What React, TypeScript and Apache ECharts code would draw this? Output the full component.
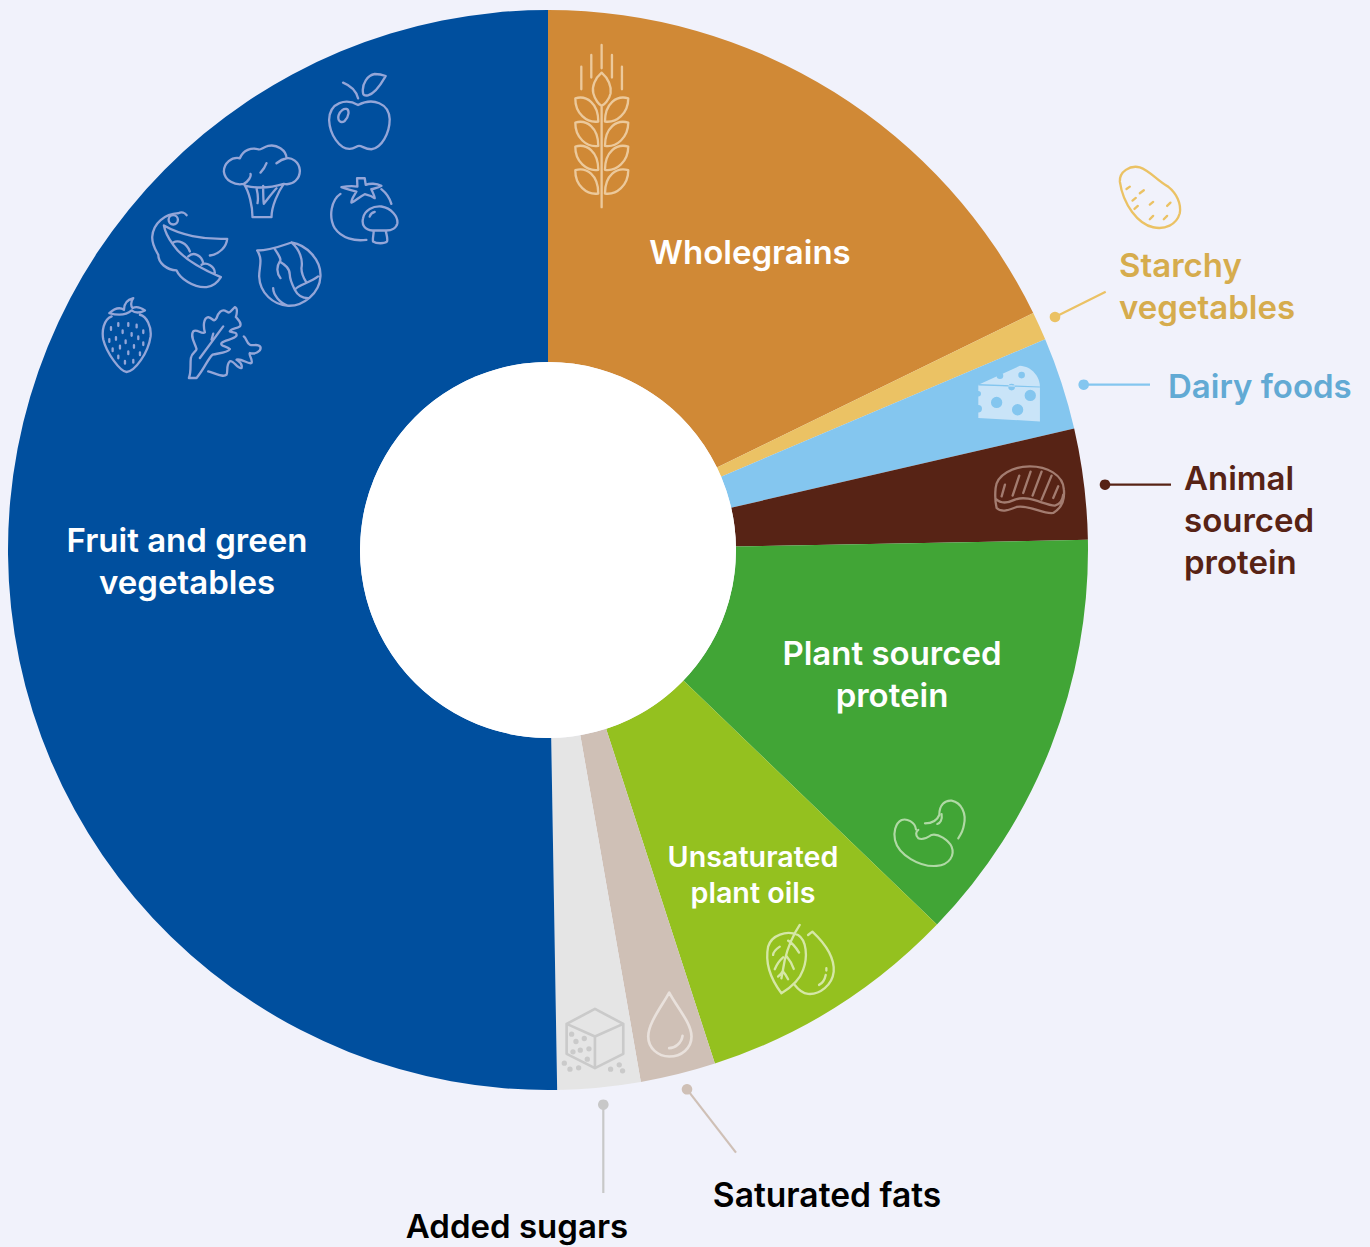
import React, { useEffect, useRef } from "react";
import * as echarts from "echarts";

const categories = ["Wholegrains", "Starchy vegetables", "Dairy foods", "Animal sourced protein", "Plant sourced protein", "Unsaturated plant oils", "Saturated fats", "Added sugars", "Fruit and green vegetables"];
const labelTexts = ["Wholegrains", "Starchy\nvegetables", "Dairy foods", "Animal\nsourced\nprotein", "Plant sourced\nprotein", "Unsaturated\nplant oils", "Saturated fats", "Added sugars", "Fruit and green\nvegetables"];
const shares = [17.77, 0.85, 2.77, 3.31, 12.5, 7.8, 2.25, 2.48, 50.27];
const sliceColors = ["#d08936", "#ebc264", "#84c6ef", "#572315", "#41a536", "#94c11f", "#cfc0b6", "#e5e5e5", "#004f9e"];
const labelColors = ["#ffffff", "#d6ac4d", "#62aad4", "#572315", "#ffffff", "#ffffff", "#000000", "#000000", "#ffffff"];
const labelSpots: [number, number, string, number, number][] = [
  [750, 251.5, "center", 33, 42], [1119, 285.5, "left", 33, 42], [1168, 385.5, "left", 33, 42], [1184, 519.5, "left", 33, 42],
  [892, 673.5, "center", 33, 42], [753, 874.5, "center", 28.7, 36], [827, 1194.5, "center", 33.6, 42], [517, 1225.5, "center", 33, 42], [187, 560.5, "center", 33, 42],
];

const circ = (c: number, d: number, r: number) => `M${c - r} ${d}a${r} ${r} 0 1 0 ${2 * r} 0a${r} ${r} 0 1 0 ${-2 * r} 0Z`;
const seed = (p: number[]) => `M${p[0]} ${p[1]}l0 8`;
const seeds = [[63, 802], [85, 790], [115, 790], [140, 795], [160, 812], [58, 838], [78, 832], [98, 812], [125, 820], [145, 830], [160, 848], [68, 866], [90, 858], [107, 842], [132, 856], [150, 878], [85, 888], [115, 875], [130, 901], [105, 904]];

const veg = [
  "M805 135C770 115 720 125 718 180C720 225 750 268 780 267C795 267 800 258 808 258C818 258 825 268 845 268C875 265 900 220 900 178C898 130 850 112 805 135Z",
  "M770 147C780 150 778 170 765 183C752 192 742 180 747 165C752 152 762 145 770 147Z",
  "M760 68C785 78 800 95 805 115M820 100C815 70 835 45 855 42C870 42 880 45 888 48C878 65 860 100 835 106C825 108 820 105 820 100Z",
  "M488 472L545 472C545 440 565 395 582 372C610 378 632 355 630 330C628 305 605 292 590 295C590 270 560 252 535 258C520 262 510 272 505 268C485 262 460 270 450 295C425 290 402 310 402 335C405 362 435 378 462 372C478 395 488 440 488 472Z",
  "M462 372C475 365 485 350 482 342M468 378C500 385 540 385 582 372M560 310C575 298 585 296 590 295M530 310C525 325 518 332 512 338M500 385C505 405 505 420 503 430M520 378C520 400 520 420 522 432C540 410 550 395 560 385",
  "M265 460C225 462 190 490 187 530C185 555 200 575 205 585C205 610 230 630 260 632C270 655 310 685 350 682C370 680 385 665 393 652C340 630 280 600 250 555C235 535 225 515 222 497C270 525 340 540 412 537C410 560 390 583 360 587",
  circ(250, 480, 14),
  "M265 460C275 455 285 458 290 466M250 548C265 540 290 548 300 575M295 590C310 575 335 585 340 610M335 615C350 605 375 620 375 640",
  "M502 572C540 572 570 560 605 548C650 555 695 600 692 650C690 700 640 740 595 738C550 735 510 700 508 650C508 620 520 600 502 572Z",
  "M555 568C570 590 575 600 570 605C585 615 600 625 600 645C600 660 610 680 615 690C625 710 640 715 655 715M615 690C625 675 660 670 685 650M605 548C630 570 640 600 635 625C635 645 645 660 650 668M570 605C560 620 560 640 572 655M550 685C550 705 570 730 595 738",
  "M752 402C725 420 715 470 735 505C755 535 795 545 830 540M875 388C890 400 900 415 905 432",
  "M755 382C775 378 790 378 803 380L802 355L825 355L828 375C840 370 860 370 875 378C865 385 855 385 845 388C850 400 855 410 855 415C840 405 830 405 825 403C810 410 795 425 785 428C785 415 795 405 800 395C785 390 770 388 755 382Z",
  "M848 512C825 510 815 495 820 475C825 450 850 438 875 440C905 445 925 470 923 490C920 505 905 512 890 512ZM852 512C852 525 848 535 850 545C860 552 885 552 892 545C895 535 890 525 888 512M840 470C842 462 848 458 855 456",
  "M65 770C40 780 35 815 40 840C50 880 90 935 110 937C135 935 175 880 182 830C185 800 170 770 150 765",
  "M58 760C75 745 90 742 102 750C102 735 110 720 130 715C122 725 122 740 128 745C140 738 155 745 165 752C150 760 135 760 125 752C110 765 85 768 58 760Z",
  seeds.map(seed).join(""),
  "M297 955C305 935 300 915 303 895C305 880 320 875 320 868C315 850 300 830 310 815C320 805 335 825 345 818C340 800 340 775 355 772C370 775 370 790 380 775C385 760 395 745 410 755C420 765 425 750 435 742C445 745 440 765 438 772C445 780 458 790 450 800C440 808 425 805 420 815C430 820 442 815 440 828C432 840 405 840 395 850C390 860 410 858 420 868C412 880 385 880 368 885C355 895 345 925 320 955Z",
  "M355 935C375 940 400 955 410 945C415 935 408 915 420 905C430 900 445 930 455 925C460 910 445 905 440 900C455 895 475 915 485 910C490 900 475 885 480 880C495 885 515 875 512 862C505 850 490 860 480 855C470 850 470 835 462 830",
  "M330 895L400 800M370 822L365 840",
];
const wheatLeaf = (dy: number) => `M46 ${205 + dy}C80 ${195 + dy} 115 ${220 + dy} 115 ${275 + dy}C80 ${280 + dy} 45 ${250 + dy} 46 ${205 + dy}ZM205 ${205 + dy}C170 ${195 + dy} 135 ${220 + dy} 135 ${275 + dy}C170 ${280 + dy} 205 ${250 + dy} 205 ${205 + dy}Z`;
const wheat = "M125 232L125 532M125 128C105 145 95 170 100 190C105 210 118 225 125 228C132 225 148 210 152 190C155 170 145 145 125 128ZM125 45L125 115M94 75L94 143M156 75L156 143M64 110L64 178M186 110L186 178" + [0, 73, 145, 216].map(wheatLeaf).join("");
const potato = "M480 95C478 65 510 45 540 52C570 62 590 90 625 110C650 130 665 160 660 190C650 225 615 240 580 232C535 222 490 165 480 95ZM500 117L510 110M540 130L552 121M518 152L528 144M524 177L534 168M570 164L580 156M622 168L632 158M570 208L580 198M612 208L622 198";
const cheese = "M55 705L180 648C215 650 240 680 240 712L240 815L55 805Z";
const cheeseHoles = [circ(110, 758, 17), circ(173, 780, 17), circ(211, 737, 17), circ(55, 732, 8), circ(55, 777, 11), circ(120, 678, 10), circ(185, 676, 10), circ(155, 712, 10), "M55 703L240 710L240 713L55 707Z"].join("");
const steak = "M107 1015C110 975 160 950 210 950C260 950 310 975 312 1020C315 1050 305 1075 280 1090C250 1095 210 1065 170 1072C150 1080 125 1090 110 1075C105 1055 105 1035 107 1015ZM108 1048C120 1060 140 1062 165 1050C205 1035 250 1065 285 1068C300 1065 308 1050 310 1035M135 1005L125 1040M178 978L158 1038M212 966L190 1030M245 966L218 1038M275 978L245 1050M295 1010L280 1045";
const bean = "M108 118C105 95 80 85 65 90C45 100 40 130 45 150C55 195 120 232 170 228C210 225 225 195 215 170C205 150 175 130 155 135C140 145 125 150 115 145C105 135 108 125 115 120M135 100C155 100 170 95 178 75C178 45 195 30 215 32C245 38 260 70 252 105C250 120 242 135 235 145M172 102C180 100 188 90 185 72";
const leaves = "M725 280C695 240 675 190 685 140C695 105 740 90 775 105C800 120 805 170 790 210C780 240 750 265 725 280ZM780 75C760 105 745 140 735 180L725 235M745 122C760 130 770 145 778 158M720 140C705 150 700 160 700 165M740 168C750 180 758 195 762 207M730 172C715 185 708 200 705 208M730 212C725 222 718 228 715 230M730 215C737 222 742 232 745 238M805 105L818 95C850 125 885 170 882 215C878 255 840 285 805 282C790 280 775 268 765 255M860 205L860 212M858 225C855 240 848 250 838 255";
const drop = "M388 278C365 320 325 370 325 410C325 445 355 470 388 470C425 470 455 445 455 410C455 370 410 320 388 278ZM388 445C405 445 425 430 428 408";
const cube = "M165 327L250 372L250 462L165 505L80 462L80 372ZM80 372L165 410L250 372M165 410L165 505";
const cubeDots = [[95, 403], [133, 416], [108, 425], [147, 447], [121, 451], [99, 456], [142, 478], [73, 490], [90, 508], [116, 504], [212, 508], [238, 495], [248, 513]].map((p) => circ(p[0], p[1], 8)).join("");

const shapes: Record<string, string> = { veg: veg.join(""), wheat, potato, cheese, cheeseHoles, steak, bean, leaves, drop, cube, cubeDots };
Object.keys(shapes).forEach((k) => echarts.graphic.registerShape("icon_" + k, echarts.graphic.extendPath(shapes[k], {})));

const strokeIcon = (k: string, x: number, y: number, stroke: string, lineWidth = 7) => ({
  type: "icon_" + k, x, y, scaleX: 1 / 3, scaleY: 1 / 3, z: 20, silent: true,
  style: { stroke, fill: "none", lineWidth, lineCap: "round", lineJoin: "round" },
});
const fillIcon = (k: string, x: number, y: number, fill: string) => ({
  type: "icon_" + k, x, y, scaleX: 1 / 3, scaleY: 1 / 3, z: 20, silent: true, style: { fill, stroke: "none" },
});
const leader = (x1: number, y1: number, x2: number, y2: number, color: string) => [
  { type: "line", z: 15, shape: { x1, y1, x2, y2 }, style: { stroke: color, lineWidth: 2.2 } },
  { type: "circle", z: 15, shape: { cx: x1, cy: y1, r: 5.3 }, style: { fill: color } },
];

export default function App() {
  const ref = useRef<HTMLDivElement>(null);
  useEffect(() => {
    document.body.style.margin = "0";
    const chart = echarts.init(ref.current!, undefined, { renderer: "svg" });
    chart.setOption({
      animation: false,
      backgroundColor: "#f1f2fb",
      series: [{
        type: "pie",
        center: [548, 550],
        radius: [188, 540],
        startAngle: 90,
        clockwise: true,
        silent: true,
        labelLine: { show: false },
        label: { show: true, position: "inside", fontFamily: "Inter", fontWeight: 600, formatter: (p: any) => labelTexts[p.dataIndex] },
        labelLayout: (p: any) => {
          const s = labelSpots[p.dataIndex];
          return { x: s[0], y: s[1], align: s[2], verticalAlign: "middle" };
        },
        data: categories.map((name, i) => ({
          name, value: shares[i],
          itemStyle: { color: sliceColors[i] },
          label: { color: labelColors[i], fontSize: labelSpots[i][3], lineHeight: labelSpots[i][4] },
        })),
      }],
      graphic: { elements: [
        { type: "circle", z: 10, shape: { cx: 548, cy: 550, r: 188 }, style: { fill: "#ffffff" } },
        ...leader(1055, 317, 1105.7, 291.7, "#ebc264"),
        ...leader(1083.7, 384.7, 1150, 384.7, "#84c6ef"),
        ...leader(1105, 484.7, 1171, 484.7, "#572315"),
        ...leader(687, 1089.3, 736, 1152.7, "#cfc0b6"),
        ...leader(603.3, 1104.7, 603.3, 1193, "#c8c8c8"),
        strokeIcon("veg", 90, 60, "#94a6d8"),
        strokeIcon("wheat", 560, 30, "#ecc99b"),
        strokeIcon("potato", 960, 150, "#ebc264"),
        fillIcon("cheese", 960, 150, "#c9e4f8"),
        fillIcon("cheeseHoles", 960, 150, "#84c6ef"),
        strokeIcon("steak", 960, 150, "#a37c70"),
        strokeIcon("bean", 880, 790, "#b0d9a5", 6.5),
        strokeIcon("leaves", 540, 900, "#d5e7a6"),
        strokeIcon("drop", 540, 900, "#e9e1dc", 8),
        strokeIcon("cube", 540, 900, "#cacaca", 8),
        fillIcon("cubeDots", 540, 900, "#cacaca"),
      ] },
    });
    return () => chart.dispose();
  }, []);
  return <div ref={ref} style={{ position: "absolute", left: 0, top: 0, width: 1370, height: 1247 }} />;
}
